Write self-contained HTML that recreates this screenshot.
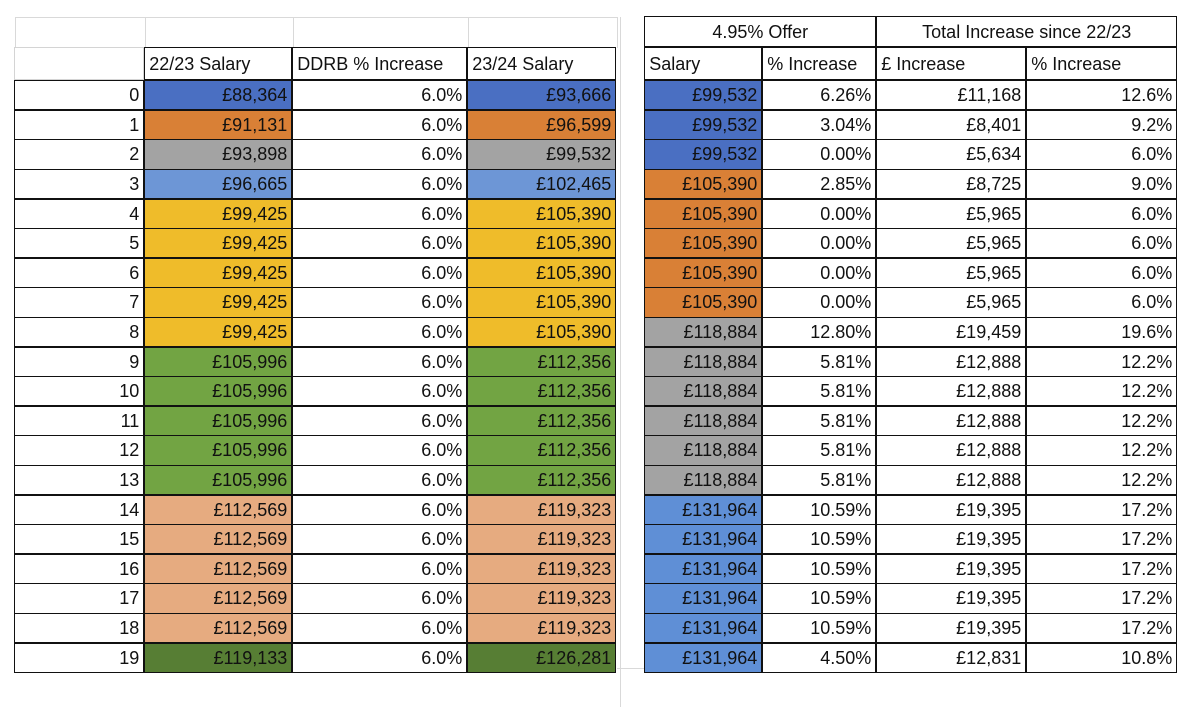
<!DOCTYPE html>
<html><head><meta charset="utf-8">
<style>
body{margin:0;width:1200px;height:690px;background:#fff;font-family:"Liberation Sans",sans-serif;overflow:hidden;position:relative}
.c{position:absolute;box-sizing:border-box;font-size:18px;line-height:1;display:flex;align-items:center;padding:0 4px;white-space:nowrap;color:#111}
.r{justify-content:flex-end}
.l{justify-content:flex-start}
.m{justify-content:center}
.g{position:absolute;background:#d9d9d9}
</style></head><body>
<script>
const steps=[0,1,2,3,4,5,6,7,8,9,10,11,12,13,14,15,16,17,18,19];
const sal2223=["£88,364","£91,131","£93,898","£96,665","£99,425","£99,425","£99,425","£99,425","£99,425","£105,996","£105,996","£105,996","£105,996","£105,996","£112,569","£112,569","£112,569","£112,569","£112,569","£119,133"];
const ddrb="6.0%";
const sal2324=["£93,666","£96,599","£99,532","£102,465","£105,390","£105,390","£105,390","£105,390","£105,390","£112,356","£112,356","£112,356","£112,356","£112,356","£119,323","£119,323","£119,323","£119,323","£119,323","£126,281"];
const leftColor=["#4a6fc2","#d98036","#a3a3a3","#6d96d6","#efbc2a","#efbc2a","#efbc2a","#efbc2a","#efbc2a","#72a443","#72a443","#72a443","#72a443","#72a443","#e6ab80","#e6ab80","#e6ab80","#e6ab80","#e6ab80","#577e34"];
const offerSal=["£99,532","£99,532","£99,532","£105,390","£105,390","£105,390","£105,390","£105,390","£118,884","£118,884","£118,884","£118,884","£118,884","£118,884","£131,964","£131,964","£131,964","£131,964","£131,964","£131,964"];
const offerColor=["#4a6fc2","#4a6fc2","#4a6fc2","#d98036","#d98036","#d98036","#d98036","#d98036","#a3a3a3","#a3a3a3","#a3a3a3","#a3a3a3","#a3a3a3","#a3a3a3","#5f8fd6","#5f8fd6","#5f8fd6","#5f8fd6","#5f8fd6","#5f8fd6"];
const offerPct=["6.26%","3.04%","0.00%","2.85%","0.00%","0.00%","0.00%","0.00%","12.80%","5.81%","5.81%","5.81%","5.81%","5.81%","10.59%","10.59%","10.59%","10.59%","10.59%","4.50%"];
const totGBP=["£11,168","£8,401","£5,634","£8,725","£5,965","£5,965","£5,965","£5,965","£19,459","£12,888","£12,888","£12,888","£12,888","£12,888","£19,395","£19,395","£19,395","£19,395","£19,395","£12,831"];
const totPct=["12.6%","9.2%","6.0%","9.0%","6.0%","6.0%","6.0%","6.0%","19.6%","12.2%","12.2%","12.2%","12.2%","12.2%","17.2%","17.2%","17.2%","17.2%","17.2%","10.8%"];

const X=[15,145,293,468,617];
const XR=[645,763,877,1027,1178];
const Y0=81,RH=29.6,H1=17,H2=48;
function cell(x,y,w,h,txt,cls,bg,name,border){
  const d=document.createElement('div');
  d.className='c '+cls;
  d.style.left=x+'px';d.style.top=y+'px';d.style.width=w+'px';d.style.height=h+'px';
  if(bg)d.style.background=bg;
  d.style.border=border||'1.5px solid #111';
  d.style.marginLeft='-0.75px';d.style.marginTop='-0.75px';
  d.textContent=txt;
  
  
  document.body.appendChild(d);
}
// light gridlines (top header row)
function gl(x,y,w,h){const g=document.createElement('div');g.className='g';g.style.left=x+'px';g.style.top=y+'px';g.style.width=w+'px';g.style.height=h+'px';


document.body.appendChild(g);}
gl(15,H1,602,1);
X.forEach(x=>gl(x,H1,1,H2-H1));
gl(620,H1,1,690);gl(617,680-12,30,1);
const light='1px solid #d4d4d4';
cell(X[0],H2,X[1]-X[0],Y0-H2,'','l',null,'row-header-blank',light);
const lh=['22/23 Salary','DDRB % Increase','23/24 Salary'];
for(let i=0;i<3;i++)cell(X[i+1],H2,X[i+2]-X[i+1],Y0-H2,lh[i],'l',null,'header-'+lh[i].toLowerCase().replace(/[^a-z0-9]+/g,'-'));
cell(XR[0],H1,XR[2]-XR[0],H2-H1,'4.95% Offer','m',null,'offer-group-header');
cell(XR[2],H1,XR[4]-XR[2],H2-H1,'Total Increase since 22/23','m',null,'total-increase-group-header');
const rh=['Salary','% Increase','£ Increase','% Increase'];
for(let i=0;i<4;i++)cell(XR[i],H2,XR[i+1]-XR[i],Y0-H2,rh[i],'l',null,'header-right-'+i);
steps.forEach((s,i)=>{
  const y=Y0+i*RH,h=RH+0.5;
  cell(X[0],y,X[1]-X[0],h,String(s),'r',null,'step-'+s);
  cell(X[1],y,X[2]-X[1],h,sal2223[i],'r',leftColor[i],'salary-2223-'+s);
  cell(X[2],y,X[3]-X[2],h,ddrb,'r',null,'ddrb-increase-'+s);
  cell(X[3],y,X[4]-X[3],h,sal2324[i],'r',leftColor[i],'salary-2324-'+s);
  cell(XR[0],y,XR[1]-XR[0],h,offerSal[i],'r',offerColor[i],'offer-salary-'+s);
  cell(XR[1],y,XR[2]-XR[1],h,offerPct[i],'r',null,'offer-pct-'+s);
  cell(XR[2],y,XR[3]-XR[2],h,totGBP[i],'r',null,'total-gbp-'+s);
  cell(XR[3],y,XR[4]-XR[3],h,totPct[i],'r',null,'total-pct-'+s);
});
</script>
</body></html>
